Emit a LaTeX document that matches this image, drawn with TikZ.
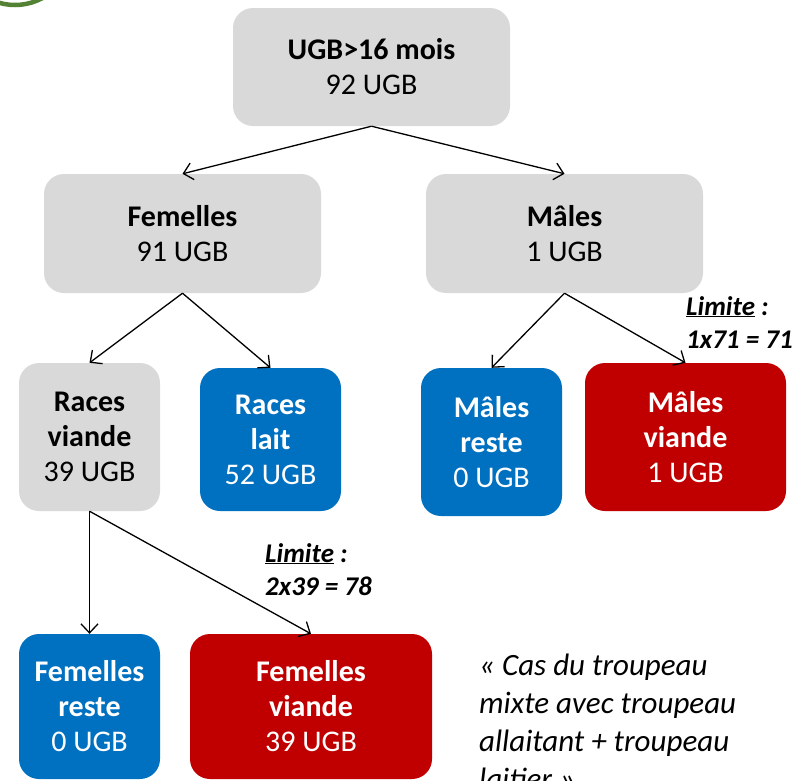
\documentclass[tikz,border=0pt]{standalone}
\usepackage{fontspec}
\setmainfont{Carlito}
\usetikzlibrary{arrows.meta}
\definecolor{boxgray}{HTML}{D9D9D9}
\definecolor{boxblue}{HTML}{0070C0}
\definecolor{boxred}{HTML}{C00000}
\definecolor{logogreen}{HTML}{548235}
\begin{document}
\begin{tikzpicture}[x=1pt,y=-1pt,
    box/.style={rounded corners=20pt, align=center, inner sep=0pt,
      font=\fontsize{30}{35}\selectfont},
    greybox/.style={box, fill=boxgray, text=black},
    bluebox/.style={box, fill=boxblue, text=white},
    redbox/.style={box, fill=boxred, text=white},
    limit/.style={align=left, inner sep=0pt,
      font=\fontsize{27}{33}\selectfont\bfseries\itshape},
    quote/.style={align=left, inner sep=0pt,
      font=\fontsize{31}{38}\selectfont\itshape},
    edge/.style={-{Straight Barb[length=9pt,width=17pt]}, line width=1.3pt}]
  \useasboundingbox (0,0) rectangle (797,780);
  \clip (0,0) rectangle (797,780);
  \draw[logogreen, line width=4.5pt] (15,-52.5) circle (57.5);
  \node[greybox, minimum width=277pt, minimum height=118pt] (top) at (371.5,67)
    {\textbf{UGB>16 mois}\\92 UGB};
  \node[greybox, minimum width=277pt, minimum height=119pt] (fem) at (182.5,233.5)
    {\textbf{Femelles}\\91 UGB};
  \node[greybox, minimum width=277pt, minimum height=119pt] (mal) at (564.5,233.5)
    {\textbf{Mâles}\\1 UGB};
  \node[greybox, minimum width=141pt, minimum height=148pt] (rv) at (89.5,437)
    {\textbf{Races}\\\textbf{viande}\\39 UGB};
  \node[bluebox, minimum width=141pt, minimum height=143pt] (rl) at (270.5,439.5)
    {\textbf{Races}\\\textbf{lait}\\52 UGB};
  \node[bluebox, minimum width=141pt, minimum height=148pt] (mr) at (491.5,442)
    {\textbf{Mâles}\\\textbf{reste}\\0 UGB};
  \node[redbox, minimum width=201pt, minimum height=148pt] (mv) at (685.5,437)
    {\textbf{Mâles}\\\textbf{viande}\\1 UGB};
  \node[bluebox, minimum width=141pt, minimum height=145pt] (fr) at (89.5,706.5)
    {\textbf{Femelles}\\\textbf{reste}\\0 UGB};
  \node[redbox, minimum width=242pt, minimum height=145pt] (fv) at (311,706.5)
    {\textbf{Femelles}\\\textbf{viande}\\39 UGB};
  \node[limit, anchor=base west] (limm) at (686,348)
    {\underline{Limite} :\\1x71 = 71};
  \node[limit, anchor=base west] (limf) at (265,595)
    {\underline{Limite} :\\2x39 = 78};
  \node[quote, anchor=base west] (cas) at (479,789)
    {« Cas du troupeau\\mixte avec troupeau\\allaitant + troupeau\\laitier »};
  \begin{scope}[edge]
    \draw (top.south) to (fem.north);
    \draw (top.south) to (mal.north);
    \draw (fem.south) to (rv.north);
    \draw (fem.south) to (rl.north);
    \draw (mal.south) to (mr.north);
    \draw (mal.south) to (mv.north);
    \draw (rv.south) to (fr.north);
    \draw (rv.south) to (fv.north);
  \end{scope}
\end{tikzpicture}
\end{document}
